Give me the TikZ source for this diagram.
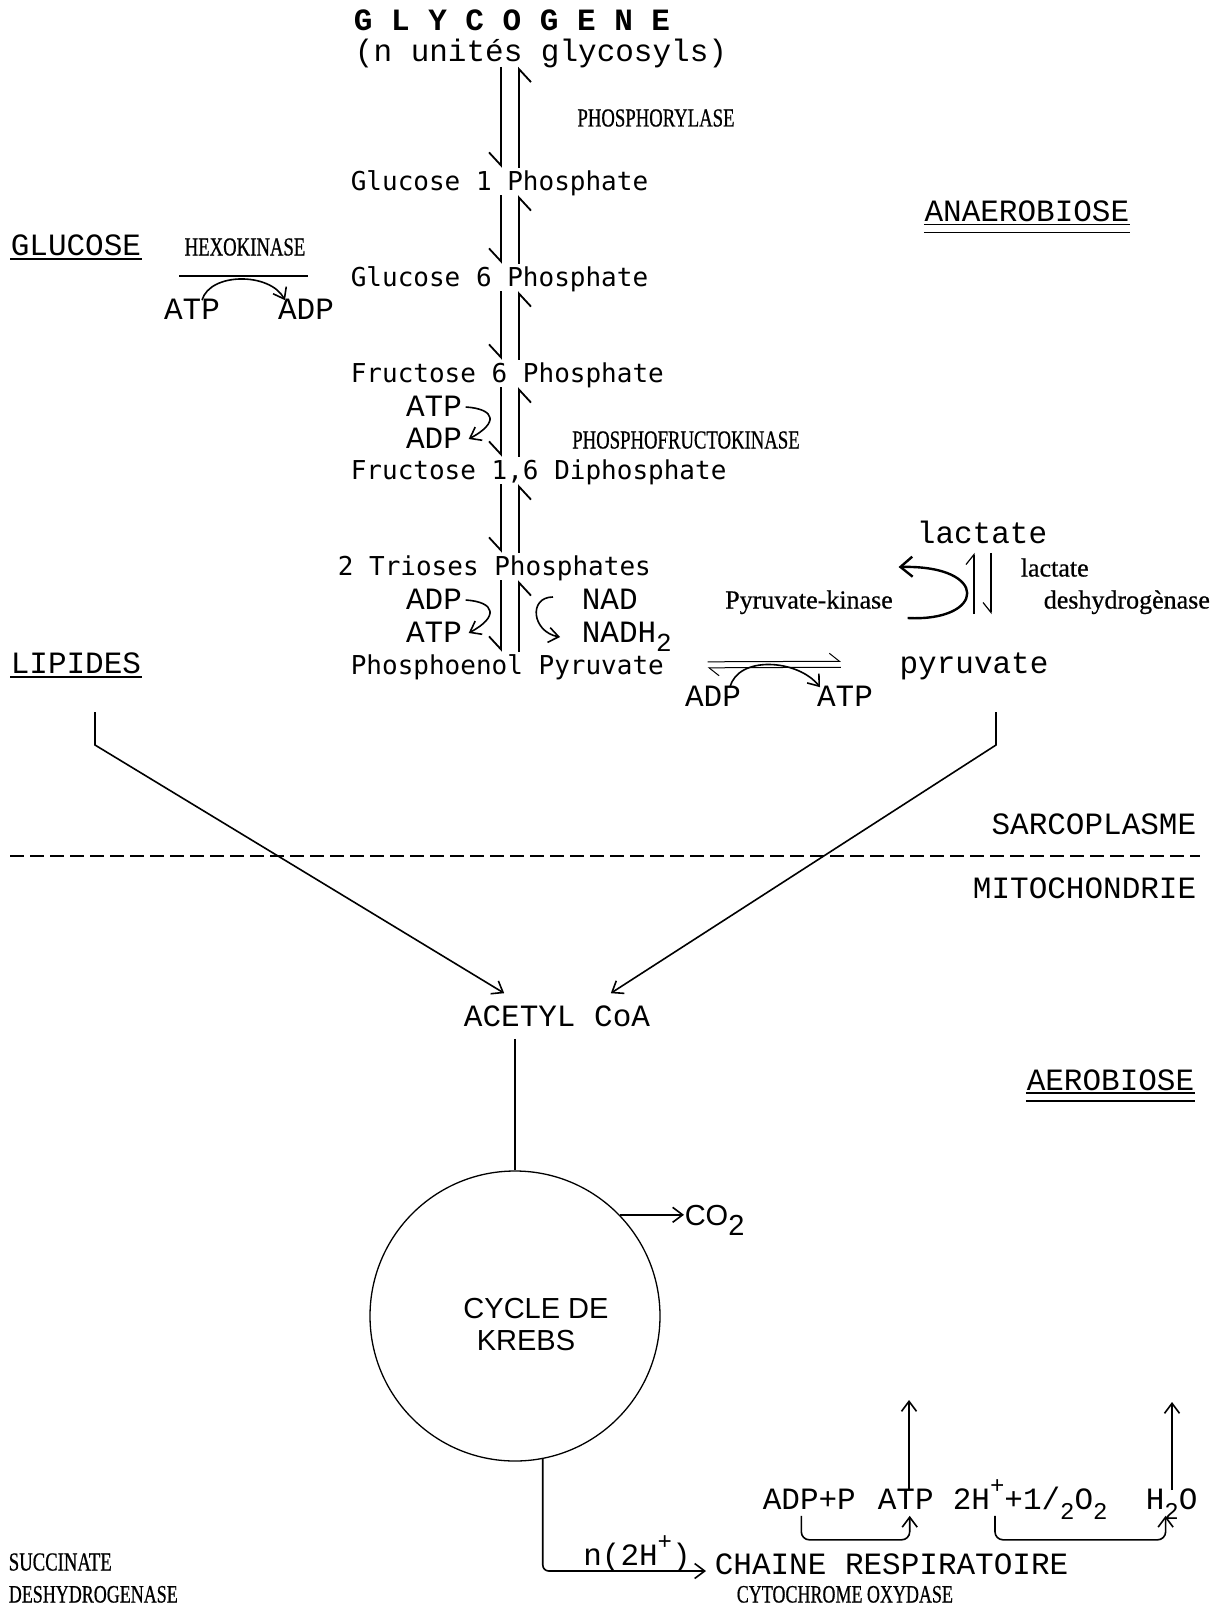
\documentclass[tikz,border=0pt]{standalone}
\usepackage{fontspec}
\usetikzlibrary{arrows.meta}
\newfontfamily\twfont{Liberation Mono}
\newfontfamily\lgfont{DejaVu Sans Mono}
\newfontfamily\capfont[FakeStretch=0.72,FakeBold=0.6]{Liberation Serif}
\newfontfamily\lowfont[FakeBold=0.6]{Liberation Serif}
\newfontfamily\helvfont{Liberation Sans}
\newcommand\upx[1]{\raisebox{0.5em}{\fontsize{24}{24}\selectfont #1}}
\newcommand\dnx[1]{\raisebox{-0.35em}{\fontsize{24}{24}\selectfont #1}}

\begin{document}
\begin{tikzpicture}[x=1pt, y=-1pt, line width=1.6pt, >={Straight Barb[length=10pt,width=15pt]}]
\tikzset{
  tw/.style={font=\twfont\fontsize{31}{34}\selectfont, inner sep=0pt, text height=18pt, text depth=0pt},
  twb/.style={tw, font=\twfont\bfseries\fontsize{31}{34}\selectfont},
  lg/.style={font=\lgfont\fontsize{26}{30}\selectfont, inner sep=0pt, text height=19pt, text depth=0pt},
  enz/.style={font=\capfont\fontsize{26}{30}\selectfont, inner sep=0pt, text height=17pt, text depth=0pt},
  enzl/.style={font=\lowfont\fontsize{26}{30}\selectfont, inner sep=0pt, text height=17pt, text depth=0pt},
  sans/.style={font=\helvfont\fontsize{29}{34}\selectfont, inner sep=0pt, text height=21pt, text depth=0pt},
  hdn/.style={-{Straight Barb[right,length=13pt,width=24pt]}, line width=1.8pt, shorten <=4pt, shorten >=3pt},
  hup/.style={-{Straight Barb[right,length=13pt,width=24pt]}, line width=1.8pt, shorten <=3pt, shorten >=4pt},
  hleft/.style={-{Straight Barb[left,length=10pt,width=16pt]}},
  hright/.style={-{Straight Barb[right,length=10pt,width=16pt]}},
  ulinetwo/.style={line width=1.4pt}
}
\useasboundingbox (0,0) rectangle (1219,1613);

\node[twb] (glyco) at (512,22) {G L Y C O G E N E};
\node[tw] (units) at (541,53) {(n unités glycosyls)};
\node[enz] (phos) at (656,118) {PHOSPHORYLASE};
\node[lg, anchor=west] (g1p) at (350,181) {Glucose 1 Phosphate};
\node[tw, anchor=east] (anaer) at (1130,213) {ANAEROBIOSE};
\node[tw, anchor=west] (glc) at (10,246) {GLUCOSE};
\node[enz] (hexo) at (245,247) {HEXOKINASE};
\node[lg, anchor=west] (g6p) at (350,277) {Glucose 6 Phosphate};
\node[tw] (atpA) at (192,310) {ATP};
\node[tw] (adpA) at (306,310) {ADP};
\node[lg, anchor=west] (f6p) at (350,373) {Fructose 6 Phosphate};
\node[tw] (atpB) at (434,407) {ATP};
\node[tw] (adpB) at (434,439) {ADP};
\node[enz] (pfk) at (686,440) {PHOSPHOFRUCTOKINASE};
\node[lg, anchor=west] (f16) at (350,470) {Fructose 1,6 Diphosphate};
\node[lg, anchor=west] (tri) at (337,566) {2 Trioses Phosphates};
\node[tw] (adpC) at (434,600) {ADP};
\node[tw] (atpC) at (434,633) {ATP};
\node[tw, anchor=west] (nad) at (581,600) {NAD};
\node[tw, anchor=west] (nadh) at (581,633) {NADH\raisebox{-0.3em}{\fontsize{26}{26}\selectfont 2}};
\node[lg, anchor=west] (pep) at (350,665) {Phosphoenol Pyruvate};
\node[tw, anchor=west] (lip) at (10,664) {LIPIDES};
\node[tw] (lac) at (982,534) {lactate};
\node[enzl, anchor=west] (ldhA) at (1020,568) {lactate};
\node[enzl, anchor=west] (ldhB) at (1043,600) {deshydrogènase};
\node[enzl] (pk) at (809,600) {Pyruvate-kinase};
\node[tw] (pyr) at (974,664) {pyruvate};
\node[tw] (adpD) at (713,697) {ADP};
\node[tw] (atpD) at (845,697) {ATP};
\node[tw, anchor=east] (sarco) at (1197,825) {SARCOPLASME};
\node[tw, anchor=east] (mito) at (1197,889) {MITOCHONDRIE};
\node[tw] (acetyl) at (557,1017) {ACETYL CoA};
\node[tw, anchor=east] (aero) at (1195,1081) {AEROBIOSE};
\node[circle, draw, line width=1.3pt, minimum size=290pt, inner sep=0pt] (krebs) at (515,1316) {};
\node[sans] (cyc) at (536,1308) {CYCLE DE};
\node[sans] (kreb) at (526,1340) {KREBS};
\node[sans, anchor=west] (co2) at (684,1215) {CO\raisebox{-0.35em}{2}};
\node[tw, anchor=west] (adpp) at (762,1500) {ADP+P};
\node[tw, anchor=west] (atpE) at (877,1500) {ATP};
\node[tw, anchor=west] (hplus) at (952,1500) {2H\upx{+}+1/\dnx{2}O\dnx{2}};
\node[tw, anchor=west] (h2o) at (1145,1500) {H\dnx{2}O};
\node[tw, anchor=south] (nh) at (637,1566) {n(2H\upx{+})};
\node[tw, anchor=west] (chain) at (714,1565) {CHAINE RESPIRATOIRE};
\node[enz, font=\capfont\fontsize{25}{30}\selectfont, anchor=west] (cyto) at (736,1594) {CYTOCHROME OXYDASE};
\node[enz, anchor=west] (succ) at (8,1562) {SUCCINATE};
\node[enz, font=\capfont\fontsize{25}{30}\selectfont, anchor=west] (sdh) at (8,1594) {DESHYDROGENASE};

\coordinate (colD) at (501,0);
\coordinate (colU) at (519,0);
\coordinate (lacU) at (974,0);
\coordinate (lacD) at (991,0);
\coordinate (hexoL) at (179,276);
\coordinate (hexoR) at (308,276);
\coordinate (lipTop) at (95,712);
\coordinate (pyrTop) at (996,712);
\coordinate (memL) at (10,856);
\coordinate (memR) at (1200,856);
\coordinate (atpOut) at (909,1400);
\coordinate (h2oOut) at (1172,1402);

\draw[line width=2.4pt] ([yshift=-3pt]glc.south west) -- ([yshift=-3pt]glc.south east);
\draw[line width=2.4pt] ([yshift=-3pt]lip.south west) -- ([yshift=-3pt]lip.south east);
\draw[ulinetwo] ([yshift=-2pt]anaer.south west) -- ([yshift=-2pt]anaer.south east);
\draw[ulinetwo] ([yshift=-10pt]anaer.south west) -- ([yshift=-10pt]anaer.south east);
\draw[ulinetwo] ([yshift=-2pt]aero.south west) -- ([yshift=-2pt]aero.south east);
\draw[ulinetwo] ([yshift=-10pt]aero.south west) -- ([yshift=-10pt]aero.south east);

\draw[hdn] (units.south -| colD) -- (g1p.north -| colD);
\draw[hup] (g1p.north -| colU) -- (units.south -| colU);
\draw[hdn] (g1p.south -| colD) -- (g6p.north -| colD);
\draw[hup] (g6p.north -| colU) -- (g1p.south -| colU);
\draw[hdn] (g6p.south -| colD) -- (f6p.north -| colD);
\draw[hup] (f6p.north -| colU) -- (g6p.south -| colU);
\draw[hdn] (f6p.south -| colD) -- (f16.north -| colD);
\draw[hup] (f16.north -| colU) -- (f6p.south -| colU);
\draw[hdn] (f16.south -| colD) -- (tri.north -| colD);
\draw[hup] (tri.north -| colU) -- (f16.south -| colU);
\draw[hdn] (tri.south -| colD) -- (pep.north -| colD);
\draw[hup] (pep.north -| colU) -- (tri.south -| colU);

\draw (hexoL) -- (hexoR);
\draw[->] ([xshift=10pt]atpA.north) .. controls +(8,-28) and +(-15,-28) .. ([xshift=-21pt]adpA.north);
\draw[->] ([xshift=3pt]atpB.east) .. controls +(30,2) and +(30,-16) .. ([xshift=6pt]adpB.east);
\draw[->] ([xshift=3pt]adpC.east) .. controls +(30,2) and +(30,-16) .. ([xshift=6pt]atpC.east);
\draw[->] ([xshift=-28pt,yshift=3pt]nad.west) .. controls +(-25,0) and +(-28,-5) .. ([xshift=-21pt,yshift=-4pt]nadh.west);

\draw[line width=1.2pt, hleft, shorten <=40pt, shorten >=9pt] (pyr.north -| lacU) -- (lac.south -| lacU);
\draw[line width=1.2pt, hright, shorten <=9pt, shorten >=40pt] (lac.south -| lacD) -- (pyr.north -| lacD);
\draw[line width=2.4pt, -{Straight Barb[length=12pt,width=20pt]}] ([xshift=14pt,yshift=-18pt]pk.east) .. controls +(78,4) and +(92,-2) .. ([xshift=5pt,yshift=33pt]pk.east);

\draw[line width=1pt, hleft, shorten <=43pt, shorten >=58pt] ([yshift=3pt]pep.east) -- ([yshift=3pt]pyr.west);
\draw[line width=1pt, hleft, shorten <=58pt, shorten >=43pt] ([yshift=-3pt]pyr.west) -- ([yshift=-3pt]pep.east);
\draw[->] ([xshift=17pt]adpD.north) .. controls +(8,-32) and +(-22,-28) .. ([xshift=-25pt]atpD.north);

\draw[->] (lipTop) -- ++(0,33) -- ([xshift=41pt,yshift=14pt]acetyl.north west);
\draw[->] (pyrTop) -- ++(0,33) -- ([xshift=-40pt,yshift=14pt]acetyl.north east);
\draw[dashed, dash pattern=on 14pt off 6pt, line width=2pt] (memL) -- (memR);

\draw ([yshift=-12pt]acetyl.south -| krebs.north) -- (krebs.north);
\draw[->] (krebs.44) -- (krebs.44 -| co2.west);
\draw[->, rounded corners=6pt] (krebs.-79) |- ([xshift=-8pt,yshift=-6pt]chain.west);

\draw[->] (atpE.north -| atpOut) -- (atpOut);
\draw[->] (h2o.north -| h2oOut) -- (h2oOut);
\draw[->, rounded corners=8pt] ([xshift=-8pt,yshift=-6pt]adpp.south) -- ++(0,24) -| ([xshift=4pt,yshift=-6pt]atpE.south);
\draw[->, rounded corners=8pt] ([xshift=43pt,yshift=-6pt]hplus.south west) -- ++(0,24) -| ([xshift=-6pt,yshift=-6pt]h2o.south);
\end{tikzpicture}
\end{document}
